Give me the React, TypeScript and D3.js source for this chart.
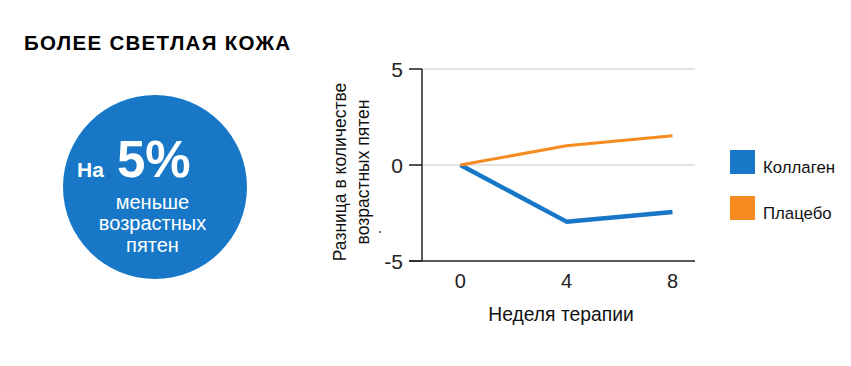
import * as d3 from "d3";

const weeks = [0, 4, 8];
const collagen = [0, -2.95, -2.45];
const placebo = [0, 1.0, 1.52];
const yTicks = [5, 0, -5];
const seriesNames = ["Коллаген", "Плацебо"];

const BLUE = "#1878c7";
const ORANGE = "#f68b1f";
const FONT = "'Liberation Sans', Arial, sans-serif";

const App = () => {
  const width = 851;
  const height = 366;

  const xScale = d3.scaleLinear().domain([-1.45, 8.85]).range([422, 695]);
  const yScale = d3.scaleLinear().domain([-5, 5]).range([261, 69]);

  const line = d3
    .line<number>()
    .x((_, i) => xScale(weeks[i]))
    .y((d) => yScale(d));

  const series = [
    { name: seriesNames[0], values: collagen, color: BLUE, w: 4.5 },
    { name: seriesNames[1], values: placebo, color: ORANGE, w: 3 },
  ];

  return (
    <svg
      width={width}
      height={height}
      style={{ position: "absolute", left: 0, top: 0, background: "#fff" }}
      fontFamily={FONT}
    >
      <text x={24} y={50} fontSize={20.5} fontWeight="bold" fill="#000" letterSpacing={1.3}>
        БОЛЕЕ СВЕТЛАЯ КОЖА
      </text>

      <circle cx={155} cy={187} r={92} fill={BLUE} />
      <text x={77} y={177} fontSize={21} fontWeight="bold" fill="#fff">На</text>
      <text x={117} y={177} fontSize={51} fontWeight="bold" fill="#fff">5%</text>
      <g fill="#fff" fontSize={20} textAnchor="middle">
        <text x={152.5} y={208.5}>меньше</text>
        <text x={152.5} y={230}>возрастных</text>
        <text x={152.5} y={251.5}>пятен</text>
      </g>

      {/* grid + y ticks */}
      {yTicks.map((t) => (
        <g key={t}>
          <line x1={409} x2={695} y1={yScale(t)} y2={yScale(t)} stroke={t === -5 ? "#222" : "#c8c8c8"} strokeWidth={t === -5 ? 1.5 : 1.2} />
          <line x1={409} x2={422} y1={yScale(t)} y2={yScale(t)} stroke="#222" strokeWidth={1.5} />
          <text x={403} y={yScale(t) + 7.5} fontSize={21} textAnchor="end" fill="#222">
            {t}
          </text>
        </g>
      ))}
      <line x1={422} x2={422} y1={yScale(5)} y2={yScale(-5)} stroke="#222" strokeWidth={1.5} />

      {weeks.map((w) => (
        <text key={w} x={xScale(w)} y={287.5} fontSize={20} textAnchor="middle" fill="#222">
          {w}
        </text>
      ))}

      <text x={561} y={321} fontSize={19.3} textAnchor="middle" fill="#111">
        Неделя терапии
      </text>

      <g transform="translate(346,172) rotate(-90)" fontSize={17.5} textAnchor="middle" fill="#111">
        <text x={0} y={0}>Разница в количестве</text>
        <text x={0} y={23}>возрастных пятен</text>
      </g>
      <circle cx={380} cy={232} r={0.9} fill="#333" />

      {series.map((s) => (
        <path
          key={s.name}
          d={line(s.values) ?? ""}
          fill="none"
          stroke={s.color}
          strokeWidth={s.w}
          strokeLinejoin="round"
        />
      ))}

      {series.map((s, i) => (
        <g key={s.name} transform={`translate(730,${150 + i * 46})`}>
          <rect width={25} height={24} fill={s.color} />
          <text x={33} y={23} fontSize={16.8} fill="#111">
            {s.name}
          </text>
        </g>
      ))}
    </svg>
  );
};

export default App;
